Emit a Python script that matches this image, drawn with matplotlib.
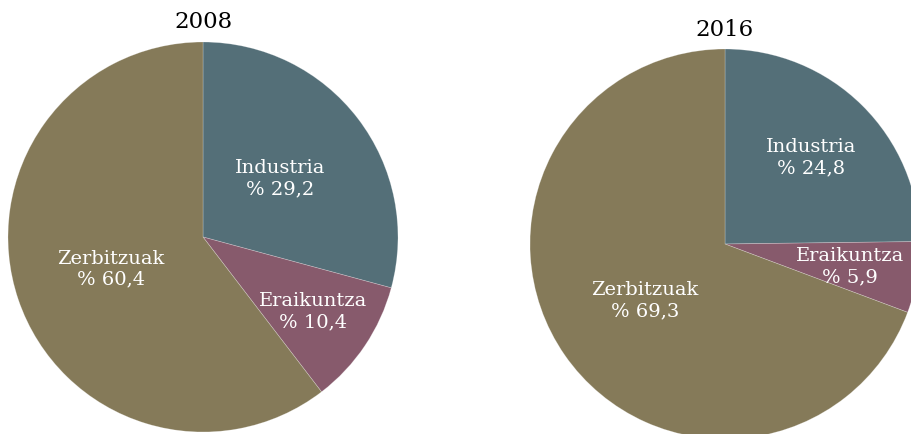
import matplotlib
matplotlib.use("Agg")
import matplotlib.pyplot as plt
import numpy as np

categories = ["Industria", "Eraikuntza", "Zerbitzuak"]
values_2008 = [29.2, 10.4, 60.4]
values_2016 = [24.8, 5.9, 69.3]
years = ["2008", "2016"]
colors = ["#546f78", "#875a6c", "#857a59"]

W, H = 911, 435
fig = plt.figure(figsize=(W / 100, H / 100), dpi=100)
font = "DejaVu Serif"

def px_axes(left, top, size):
    return fig.add_axes([left / W, (H - top - size) / H, size / W, size / H])

panels = [
    (values_2008, years[0], (8, 43, 390), [0.5, 0.68, 0.5], 22),
    (values_2016, years[1], (530, 50, 390), [0.63, 0.65, 0.5], 30),
]

for vals, year, (l, t, s), dists, ty in panels:
    ax = px_axes(l, t, s)
    wedges, _ = ax.pie(vals, colors=colors, startangle=90, counterclock=False,
                       radius=1, wedgeprops=dict(edgecolor=(1, 1, 1, 0.3), linewidth=0.5))
    for w in wedges:
        w.set_clip_on(False)
    for w, cat, v, d in zip(wedges, categories, vals, dists):
        ang = np.deg2rad((w.theta1 + w.theta2) / 2)
        x, y = d * np.cos(ang), d * np.sin(ang)
        ax.text(x, y, f"{cat}\n% {v:.1f}".replace(".", ","), ha="center", va="center",
                color="white", fontsize=14, family=font, linespacing=1.2, clip_on=False)
    ax.set_xlim(-1, 1)
    ax.set_ylim(-1, 1)
    ax.set_aspect("equal")
    ax.axis("off")
    fig.text((l + s / 2) / W, 1 - ty / H, year, ha="center", va="center",
             fontsize=16.5, family=font, color="black")

fig.savefig("out.png", dpi=100)
